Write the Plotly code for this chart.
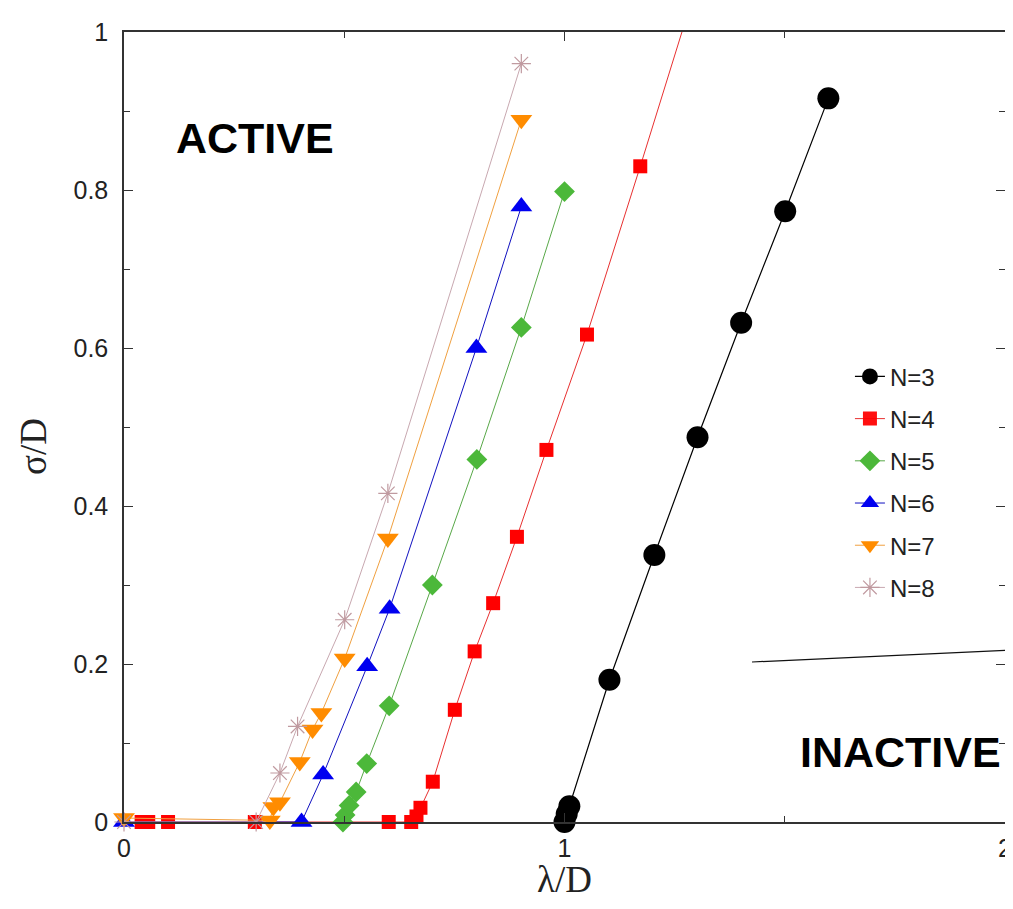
import plotly.graph_objects as go

# ---- data (lambda/D, sigma/D) ----
n3_x = [1.000, 1.005, 1.011, 1.102, 1.204, 1.302, 1.401, 1.501, 1.599]
n3_y = [0.000, 0.010, 0.020, 0.180, 0.338, 0.487, 0.632, 0.773, 0.916]

n4_x = [0.040, 0.055, 0.100, 0.297, 0.601, 0.652, 0.664, 0.673, 0.701, 0.751, 0.796, 0.838, 0.892, 0.959, 1.051, 1.172, 1.300]
n4_y = [0.000, 0.000, 0.000, 0.000, 0.000, 0.000, 0.007, 0.018, 0.051, 0.142, 0.216, 0.277, 0.361, 0.471, 0.617, 0.830, 1.060]

n5_x = [0.497, 0.502, 0.511, 0.527, 0.551, 0.602, 0.700, 0.801, 0.902, 1.000]
n5_y = [0.000, 0.009, 0.021, 0.038, 0.074, 0.147, 0.300, 0.459, 0.626, 0.798]

n6_x = [0.000, 0.403, 0.452, 0.552, 0.603, 0.800, 0.902]
n6_y = [0.000, 0.000, 0.060, 0.197, 0.270, 0.600, 0.779]

n7_x = [0.000, 0.331, 0.339, 0.354, 0.399, 0.428, 0.448, 0.501, 0.599, 0.902]
n7_y = [0.005, 0.002, 0.019, 0.025, 0.076, 0.117, 0.138, 0.207, 0.359, 0.889]

n8_x = [0.000, 0.300, 0.354, 0.394, 0.501, 0.599, 0.902]
n8_y = [0.000, 0.000, 0.062, 0.121, 0.256, 0.416, 0.960]

series = [
    ("N=3", n3_x, n3_y, "circle", 22, "#000000", "#000000", 1.2),
    ("N=4", n4_x, n4_y, "square", 14, "#ff0000", "#e83030", 1.0),
    ("N=5", n5_x, n5_y, "diamond", 16, "#4cb83a", "#58a848", 1.0),
    ("N=6", n6_x, n6_y, "triangle-up", 19, "#0000f0", "#1010c0", 1.0),
    ("N=7", n7_x, n7_y, "triangle-down", 19, "#ff8c00", "#f0a040", 1.0),
    ("N=8", n8_x, n8_y, "asterisk-open", 16, "#c09aa0", "#c8a8b0", 1.0),
]

fig = go.Figure()
for name, xs, ys, sym, size, mcol, lcol, lw in series:
    # hide markers that fall outside the visible window (line still runs to the edge)
    opac = [1 if (0 <= y <= 1) else 0 for y in ys]
    marker = dict(symbol=sym, size=size, color=mcol, opacity=opac)
    if sym == "asterisk-open":
        marker["line"] = dict(color=mcol, width=1.2)
    else:
        marker["line"] = dict(width=0)
    fig.add_trace(go.Scatter(
        x=xs, y=ys, name=name, mode="lines+markers",
        line=dict(color=lcol, width=lw),
        marker=marker, cliponaxis=False, legendgroup=name,
    ))

axis_common = dict(
    showgrid=False, zeroline=False, showline=True, linecolor="#333333", linewidth=1.5,
    mirror="ticks", ticks="inside", ticklen=9, tickwidth=1.2, tickcolor="#333333",
    tickfont=dict(family="Liberation Sans, Arial, sans-serif", size=25, color="#222222"),
    automargin=False,
)

fig.update_xaxes(range=[0, 2], tickvals=[0, 1, 2], ticktext=["0", "1", "2"],
                 ticklabelstandoff=3,
                 minor=dict(dtick=0.5, tick0=0, ticks="inside", ticklen=6, tickcolor="#333333"),
                 **axis_common)
fig.update_yaxes(range=[0, 1], tickvals=[0, 0.2, 0.4, 0.6, 0.8, 1.0],
                 ticktext=["0", "0.2", "0.4", "0.6", "0.8", "1"],
                 ticklabelstandoff=9,
                 minor=dict(dtick=0.1, tick0=0, ticks="inside", ticklen=6, tickcolor="#333333"),
                 **axis_common)

# the page body adds an 8px offset, so the figure is sized/margined to compensate
fig.update_layout(
    width=1005, height=901,
    margin=dict(l=116, r=8, t=24, b=87),
    plot_bgcolor="white", paper_bgcolor="white",
    showlegend=True,
    legend=dict(x=0.824, y=0.592, xanchor="left", yanchor="top",
                bgcolor="rgba(255,255,255,0)", borderwidth=0,
                font=dict(family="Liberation Sans, Arial, sans-serif", size=24, color="#222222"),
                tracegroupgap=8, itemsizing="trace"),
    annotations=[
        dict(text="<b>ACTIVE</b>", x=0.297, y=0.866, xref="x", yref="y", showarrow=False,
             font=dict(family="Liberation Sans, Arial, sans-serif", size=43, color="black"),
             xanchor="center", yanchor="middle"),
        dict(text="<b>INACTIVE</b>", x=1.995, y=0.089, xref="x", yref="y", showarrow=False,
             font=dict(family="Liberation Sans, Arial, sans-serif", size=43, color="black"),
             xanchor="right", yanchor="middle"),
        dict(text="λ/D", x=0.5, y=-0.073, xref="paper", yref="paper", showarrow=False,
             font=dict(family="Liberation Serif, Times New Roman, serif", size=37, color="#222222"),
             xanchor="center", yanchor="middle"),
        dict(text="σ/D", x=-0.102, y=0.475, xref="paper", yref="paper", showarrow=False,
             textangle=-90,
             font=dict(family="Liberation Serif, Times New Roman, serif", size=37, color="#222222"),
             xanchor="center", yanchor="middle"),
    ],
    shapes=[
        dict(type="line", xref="paper", yref="paper", x0=0.7128, y0=0.2025, x1=1.009, y1=0.2177,
             line=dict(color="#111111", width=1.2)),
    ],
)

fig.write_html("out.html")
